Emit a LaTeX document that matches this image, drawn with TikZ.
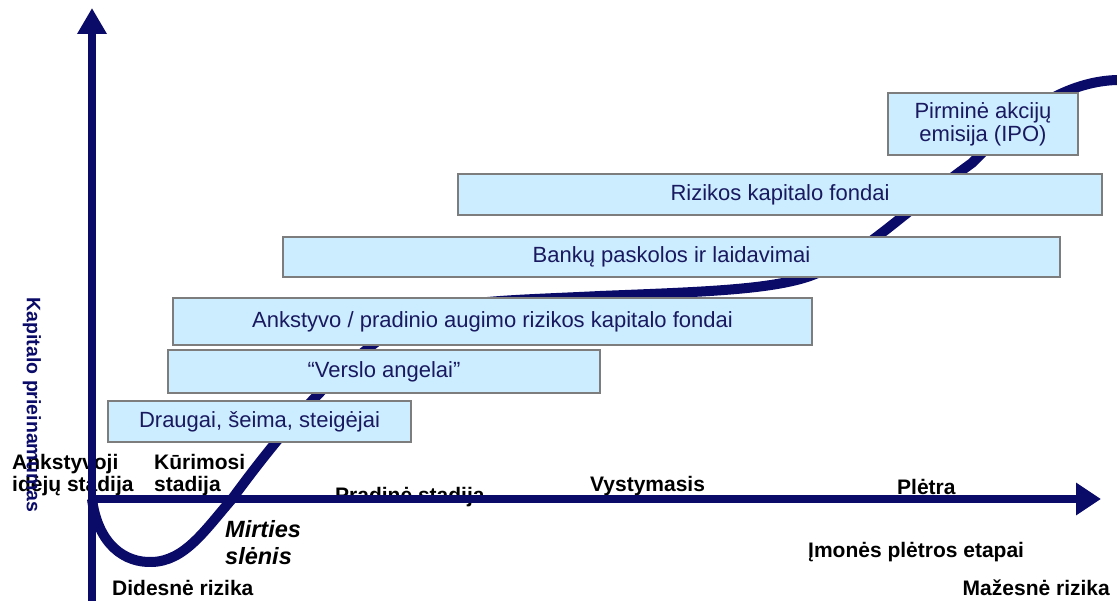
\documentclass[tikz,border=0pt]{standalone}
\usepackage{fontspec}
\setmainfont{Liberation Sans}
\usetikzlibrary{arrows.meta}
\definecolor{navy}{RGB}{10,10,105}
\definecolor{boxfill}{RGB}{204,236,255}
\definecolor{boxline}{RGB}{125,125,125}
\definecolor{boxtext}{RGB}{25,25,95}
\begin{document}
\begin{tikzpicture}[x=1pt,y=-1pt,
  fbox/.style={draw=boxline, line width=2pt, fill=boxfill, text=boxtext,
    font=\fontsize{22}{23}\selectfont, inner sep=0pt, align=center},
  lbl/.style={font=\bfseries\fontsize{21}{21}\selectfont, inner sep=0pt, anchor=base west},
  axisline/.style={line width=8pt, draw=navy},
  curveline/.style={line width=10pt, draw=navy},
]
\useasboundingbox (0,0) rectangle (1117,601);

% coordinates
\coordinate (O) at (92,499);
\coordinate (vbot) at (92,601);
\coordinate (vtop) at (92,8);
\coordinate (hstart) at (88,499);
\coordinate (hend) at (1101,499);

% curve
\draw[curveline] (O) .. controls (98,545) and (125,563) .. (152,562)
  .. controls (185,561) and (205,530) .. (232,499)
  .. controls (290,420) and (340,365) .. (400,325)
  .. controls (440,300) and (500,301) .. (600,296)
  .. controls (700,292) and (770,290) .. (810,276)
  .. controls (860,258) and (900,215) .. (972,163)
  .. controls (1000,135) and (1050,82) .. (1117,80);

% boxes
\node[fbox, minimum width=190pt, minimum height=62pt] (ipo) at (983,124)
  {Pirminė akcijų\\emisija (IPO)};
\node[fbox, minimum width=644pt, minimum height=41pt] (rkf) at (780,194.5)
  {Rizikos kapitalo fondai};
\node[fbox, minimum width=777pt, minimum height=40pt] (bank) at (671.5,257)
  {Bankų paskolos ir laidavimai};
\node[fbox, minimum width=639pt, minimum height=47pt] (ank) at (492.5,321.5)
  {Ankstyvo / pradinio augimo rizikos kapitalo fondai};
\node[fbox, minimum width=432pt, minimum height=43pt] (va) at (384,371.5)
  {“Verslo angelai”};
\node[fbox, minimum width=303pt, minimum height=41pt] (dr) at (259.5,421.5)
  {Draugai, šeima, steigėjai};

% stage labels
\node[lbl] (s1a) at (12,470) {Ankstyvoji};
\node[lbl] (s1b) at (12,491) {idėjų stadija};
\node[lbl] (s2a) at (154,470) {Kūrimosi};
\node[lbl] (s2b) at (154,491) {stadija};
\node[lbl] (s3) at (335,503) {Pradinė stadija};
\node[lbl] (s4) at (590,492) {Vystymasis};
\node[lbl] (s5) at (897,495) {Plėtra};
\node[lbl] (etapai) at (808,557) {Įmonės plėtros etapai};
\node[lbl, anchor=base east] (maz) at (1110,595) {Mažesnė rizika};
\node[lbl] (did) at (112,595) {Didesnė rizika};
\node[lbl, font=\bfseries\itshape\fontsize{23.5}{23}\selectfont] (mir1) at (225,537) {Mirties};
\node[lbl, font=\bfseries\itshape\fontsize{23.5}{23}\selectfont] (mir2) at (225,564) {slėnis};

% vertical axis label
\node[inner sep=0pt, rotate=-90, text=navy, font=\bfseries\fontsize{19.5}{20}\selectfont] (vlab) at (32,405)
  {Kapitalo prieinamumas};

% axes
\draw[axisline, -{Triangle[width=28pt,length=26pt]}] (vbot) -- (vtop);
\draw[axisline, -{Triangle[width=31pt,length=25pt]}] (hstart) -- (hend);
\end{tikzpicture}
\end{document}
